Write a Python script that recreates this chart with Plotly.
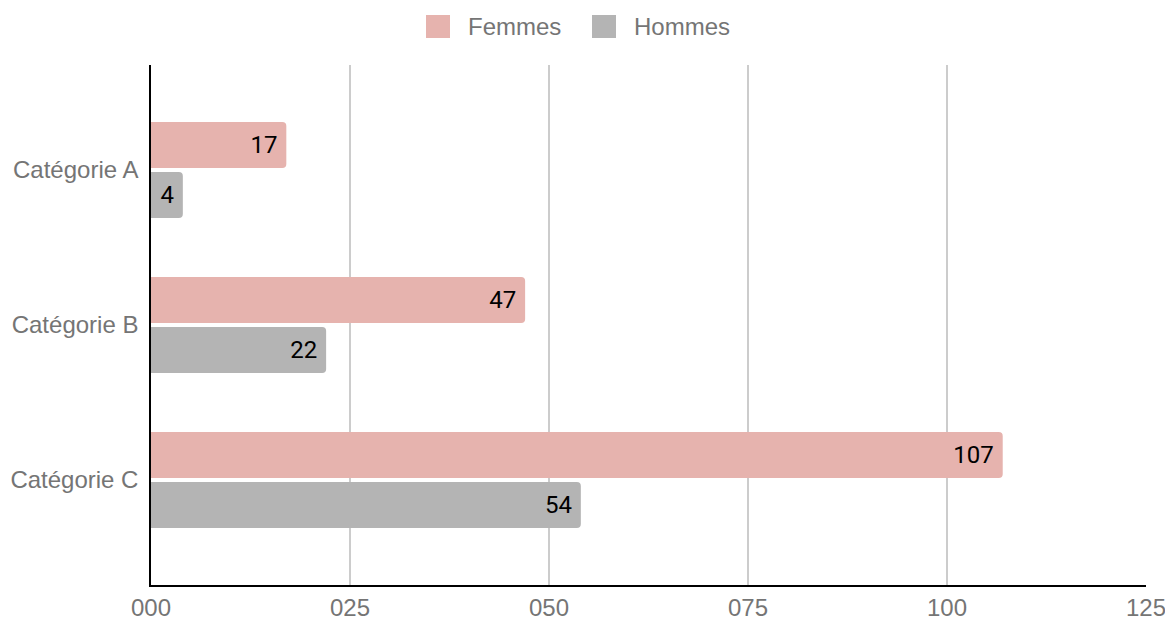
import plotly.graph_objects as go

categories = ["Catégorie A", "Catégorie B", "Catégorie C"]
femmes = [17, 47, 107]
hommes = [4, 22, 54]
series_names = ["Femmes", "Hommes"]
series_colors = ["#e6b3ae", "#b4b4b4"]
x_ticks = [0, 25, 50, 75, 100, 125]

AX_FONT = "Liberation Sans, Arial, sans-serif"
LBL_FONT = "Roboto"
GRAY_TXT = "#757575"

# page body has an 8px margin; figure is sized so it fits the window
OFF = 8
W, H = 1165, 613
ML, MR, MT, MB = 143, 27, 57, 36
PW, PH = W - ML - MR, H - MT - MB


def px(x):  # screenshot x -> paper
    return (x - OFF - ML) / PW


def py(y):  # screenshot y -> paper
    return (H - MB - (y - OFF)) / PH


fig = go.Figure()
for name, vals, col in zip(series_names, [femmes, hommes], series_colors):
    fig.add_trace(go.Bar(
        name=name, y=categories, x=vals, orientation="h",
        marker=dict(color=col, cornerradius=4, line=dict(width=0)),
        text=[str(v) for v in vals], texttemplate="%{text}\u2009",
        textposition="inside", insidetextanchor="end", textangle=0,
        insidetextfont=dict(color="#000000", size=24, family=LBL_FONT),
        showlegend=False,
    ))

# custom legend (swatch + label)
legend_items = [(426, 466), (592, 632)]
for (sx, tx), name, col in zip(legend_items, series_names, series_colors):
    fig.add_shape(type="rect", xref="paper", yref="paper",
                  x0=px(sx), x1=px(sx + 24), y0=py(38), y1=py(15),
                  fillcolor=col, line=dict(width=0))
    fig.add_annotation(xref="paper", yref="paper", x=px(tx), y=py(26),
                       xanchor="left", yanchor="middle", text=name,
                       showarrow=False,
                       font=dict(family=AX_FONT, size=24, color=GRAY_TXT))

fig.update_layout(
    width=W, height=H,
    margin=dict(l=ML, r=MR, t=MT, b=MB, autoexpand=False),
    paper_bgcolor="white", plot_bgcolor="white",
    barmode="group", bargap=0.355, bargroupgap=0.08,
    font=dict(family=AX_FONT, color=GRAY_TXT, size=24),
    showlegend=False,
    xaxis=dict(range=[0, 125], tickvals=x_ticks, tickformat="03d",
               showgrid=True, gridcolor="#cccccc", gridwidth=1.5,
               showline=True, linecolor="#000000", linewidth=1.5,
               zeroline=False, ticks="", automargin=False,
               tickfont=dict(size=24, color=GRAY_TXT, family=AX_FONT)),
    yaxis=dict(categoryorder="array", categoryarray=categories,
               range=[2.677, -0.677], showgrid=False,
               showline=True, linecolor="#000000", linewidth=1.5,
               ticks="", ticklabelstandoff=6, automargin=False,
               tickfont=dict(size=24, color=GRAY_TXT, family=AX_FONT)),
)

fig.write_html("out.html")
